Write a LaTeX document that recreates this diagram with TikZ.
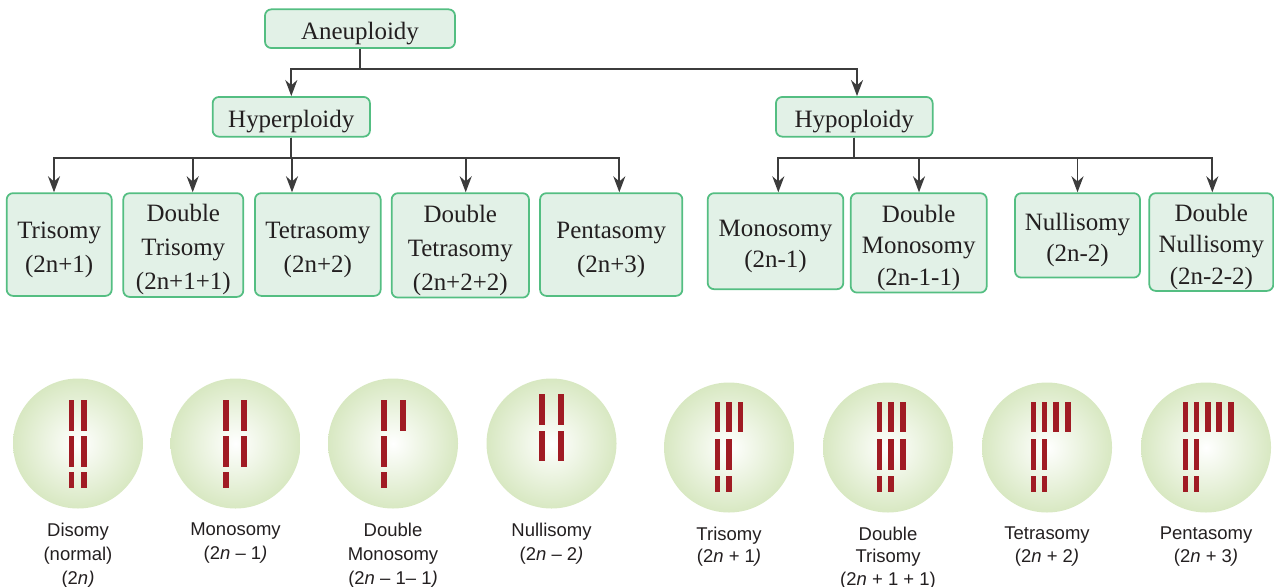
\documentclass[tikz,border=0pt]{standalone}
\usepackage{fontspec}
\setmainfont{Liberation Serif}
\newfontfamily\labelfont{Liberation Sans}
\usetikzlibrary{arrows.meta}
\definecolor{boxgreen}{RGB}{84,190,130}
\definecolor{boxfill}{RGB}{226,241,231}
\definecolor{cellgreen}{RGB}{216,232,194}
\definecolor{chromred}{RGB}{160,27,36}
\definecolor{linegray}{RGB}{60,60,60}
\definecolor{txt}{RGB}{35,31,32}
\newcommand{\tp}{\rule{0pt}{0.27cm}}

\begin{document}
\begin{tikzpicture}[
    box/.style={draw=boxgreen,fill=boxfill,line width=0.5pt,rounded corners=1.8pt,inner sep=0pt,align=center,text=txt,font=\fontsize{7.1}{9.67}\selectfont},
    boxr/.style={box,font=\fontsize{7.1}{8.96}\selectfont},
    link/.style={draw=linegray,line width=0.55pt,-{Stealth[length=0.16cm,width=0.12cm]}},
    chrom/.style={fill=chromred},
    cell/.style={inner color=white,outer color=cellgreen},
    lbl/.style={anchor=north,inner sep=0pt,align=center,text=txt,font=\labelfont\fontsize{5.26}{6.83}\selectfont},
    lblr/.style={lbl,font=\labelfont\fontsize{5.26}{6.4}\selectfont}
]
\useasboundingbox (0,0) rectangle (12.74,-5.86);

% tree
\node[box,minimum width=1.90cm,minimum height=0.387cm] (aneu) at (3.60,-0.287) {\tp Aneuploidy};
\node[box,minimum width=1.573cm,minimum height=0.397cm] (hyper) at (2.913,-1.168) {\tp Hyperploidy};
\node[box,minimum width=1.567cm,minimum height=0.397cm] (hypo) at (8.543,-1.168) {\tp Hypoploidy};

\node[box,anchor=north,minimum width=1.05cm,minimum height=1.027cm] (tri) at (0.592,-1.923) {\tp Trisomy\\(2n+1)};
\node[box,anchor=north,minimum width=1.20cm,minimum height=1.037cm] (dtri) at (1.833,-1.923) {\tp Double\\Trisomy\\(2n+1+1)};
\node[box,anchor=north,minimum width=1.257cm,minimum height=1.027cm] (tetra) at (3.178,-1.923) {\tp Tetrasomy\\(2n+2)};
\node[box,anchor=north,minimum width=1.373cm,minimum height=1.044cm] (dtetra) at (4.603,-1.923) {\tp Double\\Tetrasomy\\(2n+2+2)};
\node[box,anchor=north,minimum width=1.423cm,minimum height=1.027cm] (penta) at (6.112,-1.923) {\tp Pentasomy\\(2n+3)};
\node[boxr,anchor=north,minimum width=1.356cm,minimum height=0.96cm] (mono) at (7.755,-1.923) {\tp Monosomy\\(2n-1)};
\node[boxr,anchor=north,minimum width=1.36cm,minimum height=0.994cm] (dmono) at (9.187,-1.923) {\tp Double\\Monosomy\\(2n-1-1)};
\node[boxr,anchor=north,minimum width=1.25cm,minimum height=0.844cm] (nulli) at (10.775,-1.923) {\tp Nullisomy\\(2n-2)};
\node[boxr,anchor=north,minimum width=1.24cm,minimum height=0.977cm] (dnulli) at (12.113,-1.923) {\tp Double\\Nullisomy\\(2n-2-2)};

\draw[link] (aneu.south) -- ++(0,-0.197) -| (hyper.north);
\draw[link] (aneu.south) -- ++(0,-0.197) -| ([xshift=0.027cm]hypo.north);
\foreach \n/\dx in {tri/-0.052,dtri/0.094,tetra/-0.258,dtetra/0.054,penta/0.081} {
    \draw[link] (hyper.south) -- ++(0,-0.206) -| ([xshift=\dx cm]\n.north);
}
\foreach \n/\dx in {mono/0.028,dmono/0.003,nulli/0,dnulli/0.01} {
    \draw[link] (hypo.south) -- ++(0,-0.206) -| ([xshift=\dx cm]\n.north);
}

% cells
\foreach \x in {0.78,2.355,3.93,5.515} {
    \shade[cell] (\x,-4.435) circle (0.65);
}
\foreach \x in {7.29,8.88,10.47,12.06} {
    \shade[cell] (\x,-4.475) circle (0.65);
}

% chromosomes, left cells
\foreach \x in {0.715,0.84,2.26,2.44,3.84,4.03} {
    \fill[chrom] (\x-0.028,-4.00) rectangle (\x+0.028,-4.31);
}
\foreach \x in {0.715,0.84,2.26,2.44,3.84} {
    \fill[chrom] (\x-0.028,-4.36) rectangle (\x+0.028,-4.67);
}
\foreach \x in {0.715,0.84,2.26,3.84} {
    \fill[chrom] (\x-0.028,-4.72) rectangle (\x+0.028,-4.88);
}
\foreach \x in {5.42,5.61} {
    \fill[chrom] (\x-0.028,-3.94) rectangle (\x+0.028,-4.25);
    \fill[chrom] (\x-0.028,-4.31) rectangle (\x+0.028,-4.61);
}

% chromosomes, right cells
\foreach \x in {7.175,7.29,7.405,8.795,8.91,9.03,10.335,10.445,10.56,10.68,11.855,11.965,12.08,12.19,12.31} {
    \fill[chrom] (\x-0.028,-4.02) rectangle (\x+0.028,-4.32);
}
\foreach \x in {7.175,7.29,8.795,8.91,9.03,10.335,10.445,11.855,11.965} {
    \fill[chrom] (\x-0.028,-4.39) rectangle (\x+0.028,-4.70);
}
\foreach \x in {7.175,7.29,8.795,8.91,10.335,10.445,11.855,11.965} {
    \fill[chrom] (\x-0.028,-4.76) rectangle (\x+0.028,-4.92);
}

\node[lbl] (ldi) at (0.78,-5.223) {Disomy\\(normal)\\(2\textit{n}\textit{)}};
\node[lbl] (lmono) at (2.355,-5.223) {Monosomy\\(2\textit{n} – 1\textit{)}};
\node[lbl] (ldmono) at (3.93,-5.223) {Double\\Monosomy\\(2\textit{n} – 1– 1\textit{)}};
\node[lbl] (lnulli) at (5.515,-5.223) {Nullisomy\\(2\textit{n} – 2\textit{)}};
\node[lblr] (ltri) at (7.29,-5.263) {Trisomy\\(2\textit{n} + 1\textit{)}};
\node[lblr] (ldtri) at (8.88,-5.263) {Double\\Trisomy\\(2\textit{n} + 1 + 1)};
\node[lblr] (ltetra) at (10.47,-5.263) {Tetrasomy\\(2\textit{n} + 2\textit{)}};
\node[lblr] (lpenta) at (12.06,-5.263) {Pentasomy\\(2\textit{n} + 3\textit{)}};
\end{tikzpicture}
\end{document}
